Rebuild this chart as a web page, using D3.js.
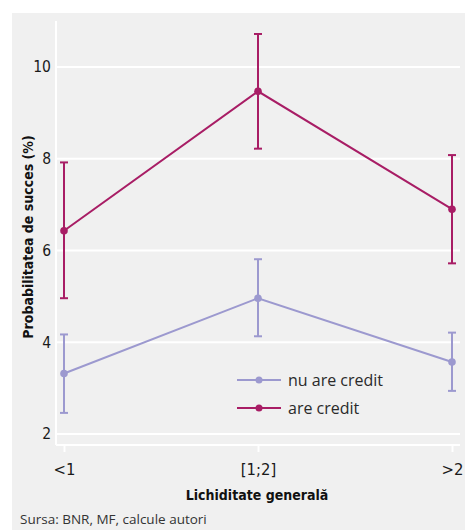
<!DOCTYPE html>
<html>
<head>
<meta charset="utf-8">
<script src="https://cdn.jsdelivr.net/npm/d3@7"></script>
<style>
  html, body { margin: 0; padding: 0; background: #ffffff; }
  svg { display: block; }
</style>
</head>
<body>
<svg id="chart" width="465" height="530"></svg>
<script>
// Categories of the general liquidity ratio
const categories = ["<1", "[1;2]", ">2"];

// Probability of success (%) – firms without credit
const noCreditMean  = [3.32, 4.96, 3.57];
const noCreditLow   = [2.46, 4.13, 2.94];
const noCreditHigh  = [4.17, 5.81, 4.21];

// Probability of success (%) – firms with credit
const creditMean    = [6.43, 9.47, 6.90];
const creditLow     = [4.96, 8.22, 5.72];
const creditHigh    = [7.92, 10.72, 8.08];

const yTicks = [2, 4, 6, 8, 10];
const seriesNames = ["nu are credit", "are credit"];
const seriesColors = ["#9c99cf", "#a81d65"];

const series = [
  { name: seriesNames[0], color: seriesColors[0], mean: noCreditMean, low: noCreditLow, high: noCreditHigh },
  { name: seriesNames[1], color: seriesColors[1], mean: creditMean, low: creditLow, high: creditHigh }
];

const svg = d3.select("#chart");
const condensed = "'DejaVu Sans Condensed', 'DejaVu Sans', sans-serif";
const regular = "'Open Sans', 'Noto Sans', sans-serif";

// panel background
svg.append("rect").attr("x", 12).attr("y", 13).attr("width", 453).attr("height", 517).attr("fill", "#f0f0f0");

const plot = { left: 56, right: 460, top: 21, bottom: 445 };

const x = d3.scalePoint().domain(categories).range([64, 452]);
const y = d3.scaleLinear().domain([2, 10]).range([434, 67]);

// gridlines
svg.append("g").selectAll("line").data(yTicks).join("line")
  .attr("x1", plot.left).attr("x2", plot.right)
  .attr("y1", d => y(d)).attr("y2", d => y(d))
  .attr("stroke", "#ffffff").attr("stroke-width", 2);

// axes lines
svg.append("line").attr("x1", plot.left).attr("x2", plot.left)
  .attr("y1", plot.top).attr("y2", plot.bottom)
  .attr("stroke", "#ffffff").attr("stroke-width", 2);
svg.append("line").attr("x1", plot.left).attr("x2", plot.right)
  .attr("y1", plot.bottom).attr("y2", plot.bottom)
  .attr("stroke", "#ffffff").attr("stroke-width", 2);

// y axis labels
const yAxis = d3.axisLeft(y).tickValues(yTicks).tickSize(0).tickPadding(0).tickFormat(d3.format("d"));
const gy = svg.append("g").attr("transform", `translate(${plot.left - 5},0)`).call(yAxis);
gy.select(".domain").remove();
gy.selectAll("text").attr("font-family", condensed).attr("font-size", 15.5).attr("fill", "#1a1a1a");

// x axis ticks and labels
const xAxis = d3.axisBottom(x).tickSize(7).tickPadding(11);
const gx = svg.append("g").attr("transform", `translate(0,${plot.bottom})`).call(xAxis);
gx.select(".domain").remove();
gx.selectAll("line").attr("stroke", "#ffffff").attr("stroke-width", 2);
gx.selectAll("text").attr("font-family", condensed).attr("font-size", 16.5).attr("fill", "#1a1a1a");

// series: lines, error bars, points
series.forEach(s => {
  const g = svg.append("g");
  const line = d3.line().x((d, i) => x(categories[i])).y(d => y(d));
  g.append("path").datum(s.mean).attr("d", line)
    .attr("fill", "none").attr("stroke", s.color).attr("stroke-width", 2);
  categories.forEach((c, i) => {
    const cx = x(c);
    g.append("line").attr("x1", cx).attr("x2", cx).attr("y1", y(s.low[i])).attr("y2", y(s.high[i]))
      .attr("stroke", s.color).attr("stroke-width", 2);
    [s.low[i], s.high[i]].forEach(v => {
      g.append("line").attr("x1", cx - 4).attr("x2", cx + 4).attr("y1", y(v)).attr("y2", y(v))
        .attr("stroke", s.color).attr("stroke-width", 2);
    });
    g.append("circle").attr("cx", cx).attr("cy", y(s.mean[i])).attr("r", 3.8).attr("fill", s.color);
  });
});

// legend
const legend = svg.append("g");
series.forEach((s, i) => {
  const ly = 380 + i * 28;
  legend.append("line").attr("x1", 237).attr("x2", 281).attr("y1", ly).attr("y2", ly)
    .attr("stroke", s.color).attr("stroke-width", 2);
  legend.append("circle").attr("cx", 259).attr("cy", ly).attr("r", 3.5).attr("fill", s.color);
  legend.append("text").attr("x", 288).attr("y", ly).attr("dy", "0.35em")
    .attr("font-family", regular).attr("font-size", 16).attr("fill", "#2a2a2a").text(s.name);
});

// axis titles
svg.append("text").attr("x", 257).attr("y", 500).attr("text-anchor", "middle")
  .attr("font-family", condensed).attr("font-weight", "bold").attr("font-size", 14)
  .attr("fill", "#111").text("Lichiditate generală");
svg.append("text").attr("transform", "translate(33,237) rotate(-90)").attr("text-anchor", "middle")
  .attr("font-family", condensed).attr("font-weight", "bold").attr("font-size", 14)
  .attr("fill", "#111").text("Probabilitatea de succes (%)");

// source note
svg.append("text").attr("x", 20).attr("y", 524)
  .attr("font-family", regular).attr("font-size", 13.5).attr("fill", "#333")
  .text("Sursa: BNR, MF, calcule autori");
</script>
</body>
</html>
